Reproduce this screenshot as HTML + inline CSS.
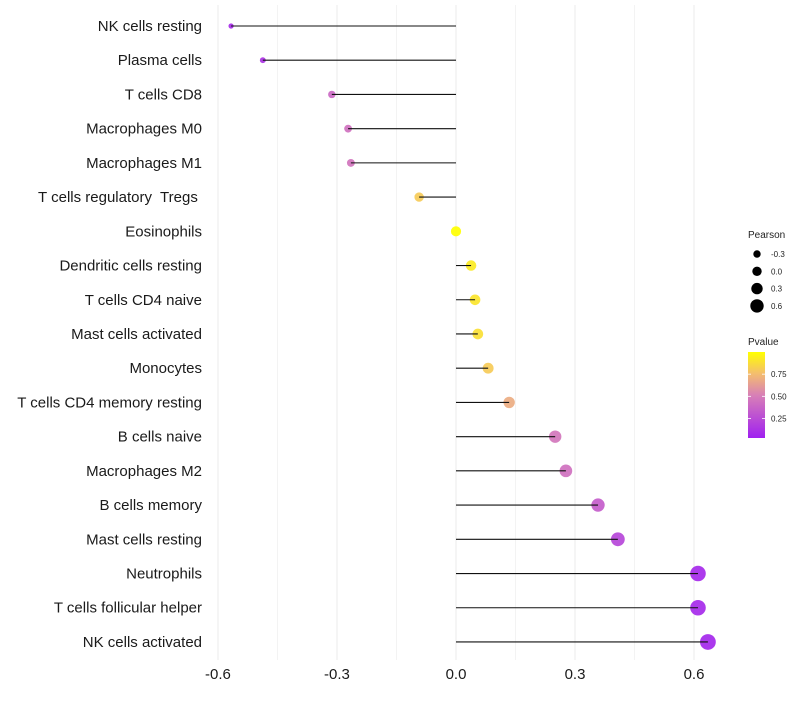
<!DOCTYPE html>
<html><head><meta charset="utf-8">
<style>
body{margin:0;background:#fff;font-family:"Liberation Sans",sans-serif;}
svg text{font-family:"Liberation Sans",sans-serif;}
</style></head>
<body>
<svg id="chart" width="800" height="700"></svg>
<script>
const categories=["NK cells resting","Plasma cells","T cells CD8","Macrophages M0","Macrophages M1","T cells regulatory\u00a0 Tregs\u00a0","Eosinophils","Dendritic cells resting","T cells CD4 naive","Mast cells activated","Monocytes","T cells CD4 memory resting","B cells naive","Macrophages M2","B cells memory","Mast cells resting","Neutrophils","T cells follicular helper","NK cells activated"];
const pearson=[-0.567,-0.487,-0.313,-0.272,-0.265,-0.093,0.0,0.038,0.048,0.055,0.081,0.134,0.25,0.277,0.358,0.408,0.61,0.61,0.635];
const pvalue=[0.06,0.1,0.38,0.42,0.44,0.8,1.0,0.92,0.9,0.88,0.8,0.68,0.45,0.42,0.32,0.2,0.05,0.05,0.04];
const xTicks=[-0.6,-0.3,0.0,0.3,0.6];
const xTickLabels=["-0.6","-0.3","0.0","0.3","0.6"];
const sizeLegend=[-0.3,0.0,0.3,0.6];
const sizeLegendLabels=["-0.3","0.0","0.3","0.6"];
const pTicks=[0.25,0.5,0.75];
const pTickLabels=["0.25","0.50","0.75"];

const NS="http://www.w3.org/2000/svg";
const svg=document.getElementById('chart');
function mk(t,a,p){const e=document.createElementNS(NS,t);for(const k in a)e.setAttribute(k,a[k]);(p||svg).appendChild(e);return e;}
const x=v=>456+v*396.7;
const y=i=>26+i*34.22;
const r=v=>Math.max(1.4,5.1+4.4*v);
const stops=[[0,[160,32,240]],[0.5,[216,128,182]],[0.75,[244,190,110]],[1,[255,255,0]]];
function col(p){p=Math.max(0,Math.min(1,p));for(let i=1;i<stops.length;i++){if(p<=stops[i][0]){const a=stops[i-1],b=stops[i];const t=(p-a[0])/(b[0]-a[0]);const c=a[1].map((v,j)=>Math.round(v+(b[1][j]-v)*t));return `rgb(${c})`;}}return 'rgb(255,255,0)';}
const py=p=>438-(p-0.03)/(0.97)*86;

for(let k=0;k<xTicks.length;k++){
  const g=mk('line',{x1:x(xTicks[k]),x2:x(xTicks[k]),y1:5,y2:660,stroke:'#ebebeb','stroke-width':1});
  
  
  if(k<xTicks.length-1){
    const m=(xTicks[k]+xTicks[k+1])/2;
    const g2=mk('line',{x1:x(m),x2:x(m),y1:5,y2:660,stroke:'#f3f3f3','stroke-width':1});
    
    
  }
  const t=mk('text',{x:x(xTicks[k]),y:679,'text-anchor':'middle','font-size':15,fill:'#1a1a1a'});
  t.textContent=xTickLabels[k];
  
  
}
for(let i=0;i<categories.length;i++){
  const l=mk('text',{x:202,y:y(i)+5,'text-anchor':'end','font-size':15,fill:'#1a1a1a'});
  l.textContent=categories[i];
  
  
  const c=mk('circle',{cx:x(pearson[i]),cy:y(i),r:r(pearson[i]),fill:col(pvalue[i]),'fill-opacity':0.92});
  
  
  const s=mk('line',{x1:x(0),x2:x(pearson[i]),y1:y(i),y2:y(i),stroke:'#111','stroke-width':1.1});
  
  
}
const lt=mk('text',{x:748,y:238,'font-size':10,fill:'#222'});lt.textContent='Pearson';


for(let k=0;k<sizeLegend.length;k++){
  const cy=254+k*17.3;
  const c=mk('circle',{cx:757,cy:cy,r:3.7+k*1,fill:'#000'});
  
  
  const t=mk('text',{x:771,y:cy+3,'font-size':8,fill:'#222'});t.textContent=sizeLegendLabels[k];
  
  
}
const pt=mk('text',{x:748,y:345,'font-size':10,fill:'#222'});pt.textContent='Pvalue';


const defs=mk('defs',{});
const lg=mk('linearGradient',{id:'pg',x1:0,y1:1,x2:0,y2:0},defs);
stops.forEach(s=>mk('stop',{offset:s[0],'stop-color':col(s[0])},lg));
const bar=mk('rect',{x:748,y:352,width:17,height:86,fill:'url(#pg)'});


for(let k=0;k<pTicks.length;k++){
  const yy=py(pTicks[k]);
  mk('line',{x1:748,x2:751,y1:yy,y2:yy,stroke:'#fff','stroke-width':0.8});
  mk('line',{x1:762,x2:765,y1:yy,y2:yy,stroke:'#fff','stroke-width':0.8});
  const t=mk('text',{x:771,y:yy+3,'font-size':8,fill:'#222'});t.textContent=pTickLabels[k];
  
  
}
</script>
</body></html>
